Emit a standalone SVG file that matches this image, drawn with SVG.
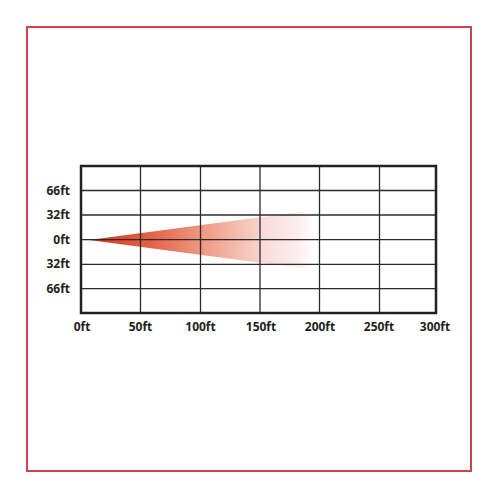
<svg xmlns="http://www.w3.org/2000/svg" width="500" height="500" viewBox="0 0 500 500">
<defs>
<linearGradient id="beam" gradientUnits="userSpaceOnUse" x1="89" y1="0" x2="322" y2="0">
<stop offset="0" stop-color="#d2361f"/>
<stop offset="0.25" stop-color="#e35f43"/>
<stop offset="0.5" stop-color="#ef9c86"/>
<stop offset="0.72" stop-color="#f7d0c6"/>
<stop offset="0.74" stop-color="#fadadb"/>
<stop offset="0.9" stop-color="#fdeeee"/>
<stop offset="1" stop-color="#ffffff" stop-opacity="0"/>
</linearGradient>
<style>
.lbl{font-family:"Open Sans","Liberation Sans",sans-serif;font-weight:bold;font-size:12px;fill:#231f20}
.g{stroke:#2b2b2b;stroke-width:1.3;fill:none}
</style>
</defs>
<rect x="0" y="0" width="500" height="500" fill="#ffffff"/>
<rect x="27" y="27" width="444" height="444" fill="none" stroke="#c9474c" stroke-width="2"/>
<g id="beam-shape">
<polygon points="89,240 322,209 322,271" fill="url(#beam)"/>
</g>
<g id="grid">
<line class="g" x1="140.5" y1="166" x2="140.5" y2="313"/>
<line class="g" x1="200.5" y1="166" x2="200.5" y2="313"/>
<line class="g" x1="260" y1="166" x2="260" y2="313"/>
<line class="g" x1="319.5" y1="166" x2="319.5" y2="313"/>
<line class="g" x1="379.5" y1="166" x2="379.5" y2="313"/>
<line class="g" x1="81" y1="190.5" x2="436" y2="190.5"/>
<line class="g" x1="81" y1="215" x2="436" y2="215"/>
<line class="g" x1="81" y1="239.7" x2="436" y2="239.7"/>
<line class="g" x1="81" y1="264.3" x2="436" y2="264.3"/>
<line class="g" x1="81" y1="288.7" x2="436" y2="288.7"/>
<rect x="81" y="166" width="355" height="147" fill="none" stroke="#222" stroke-width="2.5"/>
</g>
<g id="y-labels" text-anchor="end">
<text class="lbl" x="70" y="194.5">66ft</text>
<text class="lbl" x="70" y="219">32ft</text>
<text class="lbl" x="70" y="243.5">0ft</text>
<text class="lbl" x="70" y="268">32ft</text>
<text class="lbl" x="70" y="292.5">66ft</text>
</g>
<g id="x-labels" text-anchor="middle">
<text class="lbl" x="82" y="331">0ft</text>
<text class="lbl" x="140.5" y="331">50ft</text>
<text class="lbl" x="200.5" y="331">100ft</text>
<text class="lbl" x="261" y="331">150ft</text>
<text class="lbl" x="320" y="331">200ft</text>
<text class="lbl" x="379" y="331">250ft</text>
<text class="lbl" x="435" y="331">300ft</text>
</g>
</svg>
